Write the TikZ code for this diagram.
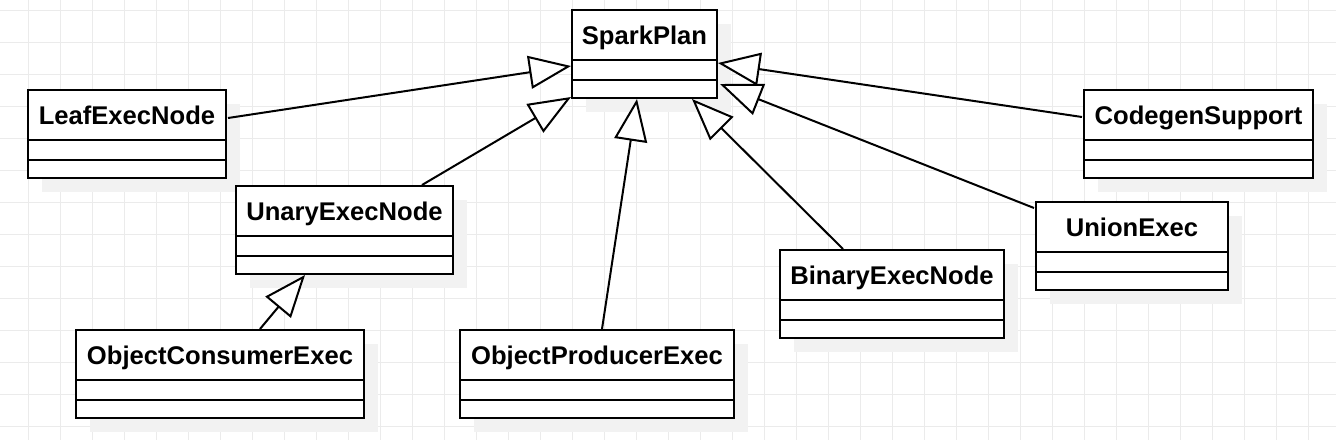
\documentclass[tikz,border=0pt]{standalone}
\usepackage{fontspec}
\setmainfont{Liberation Sans}
\usetikzlibrary{arrows.meta,calc}
\definecolor{gridgray}{RGB}{235,235,235}
\definecolor{shadowgray}{RGB}{242,242,242}
\tikzset{
  classbox/.style={draw=black, line width=2pt, fill=white, inner sep=0pt, outer sep=0pt},
  classlabel/.style={font=\bfseries\fontsize{25.6}{30}\selectfont, anchor=base, inner sep=0pt},
  compline/.style={line width=2pt},
  inherit/.style={line width=2pt, -{Triangle[length=42pt,width=33pt,fill=white]}},
  gridline/.style={draw=gridgray, line width=1pt}
}
\newcommand{\umlshadow}[3]{%
  \fill[shadowgray] (#1+14,#2+14) rectangle (#1+#3+14,#2+102);
}
\newcommand{\umlclass}[5]{%
  \node[classbox, anchor=north west, minimum width=#4pt, minimum height=88pt] (#1) at (#2,#3) {};
  \node[classlabel] (#1-label) at ($(#1.north)+(0,34)$) {#5};
  \draw[compline] ($(#1.north west)+(0,50)$) -- ($(#1.north east)+(0,50)$);
  \draw[compline] ($(#1.north west)+(0,70)$) -- ($(#1.north east)+(0,70)$);
}
\begin{document}
\begin{tikzpicture}[x=1pt,y=-1pt]
  \useasboundingbox (0,0) rectangle (1336,440);
  \fill[white] (0,0) rectangle (1336,440);
  % grid
  \foreach \gx in {28,60,...,1308} { \draw[gridline] (\gx,0) -- (\gx,440); }
  \foreach \gy in {10,42,...,426} { \draw[gridline] (0,\gy) -- (1336,\gy); }
  % shadows
  \umlshadow{572}{10}{145}
  \umlshadow{28}{90}{198}
  \umlshadow{236}{186}{217}
  \umlshadow{76}{330}{288}
  \umlshadow{460}{330}{274}
  \umlshadow{780}{250}{224}
  \umlshadow{1036}{202}{192}
  \umlshadow{1084}{90}{229}
  % classes
  \umlclass{spark}{572}{10}{145}{SparkPlan}
  \umlclass{leaf}{28}{90}{198}{LeafExecNode}
  \umlclass{unary}{236}{186}{217}{UnaryExecNode}
  \umlclass{consumer}{76}{330}{288}{ObjectConsumerExec}
  \umlclass{producer}{460}{330}{274}{ObjectProducerExec}
  \umlclass{binary}{780}{250}{224}{BinaryExecNode}
  \umlclass{union}{1036}{202}{192}{UnionExec}
  \umlclass{codegen}{1084}{90}{229}{CodegenSupport}
  % inheritance connectors
  \draw[inherit] ($(leaf.north east)+(2,28)$) -- ($(spark.north west)+(-1,56)$);
  \draw[inherit] ($(unary.north west)+(186,-1)$) -- ($(spark.south west)+(-1,-1)$);
  \draw[inherit] ($(producer.north west)+(142,-1)$) -- ($(spark.south west)+(65,1)$);
  \draw[inherit] ($(binary.north west)+(63,-1)$) -- ($(spark.south west)+(120,1)$);
  \draw[inherit] ($(union.north west)+(-2,6)$) -- ($(spark.north east)+(3,74)$);
  \draw[inherit] ($(codegen.north west)+(-2,27)$) -- ($(spark.north east)+(1,53)$);
  \draw[inherit] ($(consumer.north west)+(184,-1)$) -- ($(unary.south west)+(69,1)$);
\end{tikzpicture}
\end{document}
